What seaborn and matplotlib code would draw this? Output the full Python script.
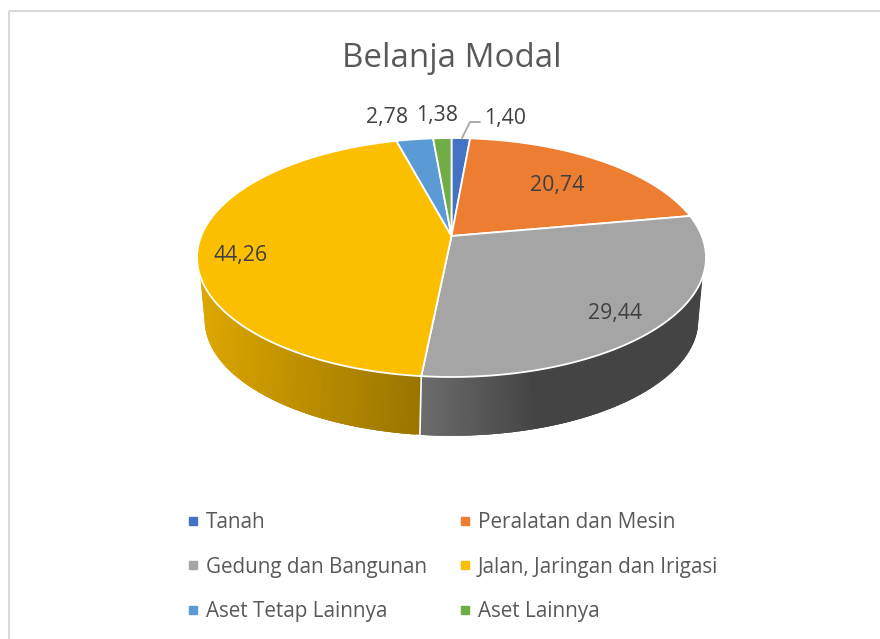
import numpy as np
import matplotlib
matplotlib.use("Agg")
import matplotlib.pyplot as plt
from matplotlib.colors import to_rgb
from matplotlib.lines import Line2D
from matplotlib.patches import Rectangle
import seaborn as sns

categories = ["Tanah", "Peralatan dan Mesin", "Gedung dan Bangunan",
              "Jalan, Jaringan dan Irigasi", "Aset Tetap Lainnya", "Aset Lainnya"]
values = [1.40, 20.74, 29.44, 44.26, 2.78, 1.38]
value_labels = ["1,40", "20,74", "29,44", "44,26", "2,78", "1,38"]
colors = ["#4472C4", "#ED7D31", "#A5A5A5", "#FCBF00", "#5B9BD5", "#70AD47"]
title = "Belanja Modal"

sns.set_theme(style="white")
plt.rcParams["font.family"] = ["Open Sans", "DejaVu Sans"]

# perspective of the pie disc, in figure pixels
CX, CY = 451.5, 236.0
F, G, K = 250.3, 115.6, 0.18
BOTTOM_CY, BOTTOM_SCALE = 299.0, 0.97


def project(deg, cy=CY, scale=1.0):
    a = np.radians(deg)
    x, y = np.sin(a), np.cos(a)
    d = 1 + K * y
    return CX + scale * F * x / d, cy - scale * G * y / d


def side_shade(color, px):
    """Shade of the rim: darker than the top, varying across the pie."""
    r = np.array(to_rgb(color))
    if color == colors[3]:
        t = np.clip((px - 198) / (421 - 198), 0, 1)
        return tuple(r * (0.88 - 0.27 * t))
    t = np.clip((px - 421) / (535 - 421), 0, 1)
    return tuple(r * (0.66 - 0.25 * t))


fig = plt.figure(figsize=(8.8, 6.39), dpi=100, facecolor="white")
ax = fig.add_axes([0, 0, 1, 1])
ax.set_xlim(0, 880)
ax.set_ylim(639, 0)
ax.axis("off")

ax.add_patch(Rectangle((8.5, 10.7), 900, 700, fill=False, ec="#D9D9D9", lw=1.5, zorder=0))

edges = np.concatenate([[0], np.cumsum(values)]) / np.sum(values) * 360

# rim: each strip runs to the slice's end, the next one paints over it
VIS_TOP, VIS_BOT = 70.5, 76.0
for i, color in enumerate(colors):
    lo = max(edges[i], 180 - VIS_TOP)
    hi = min(edges[i + 1], 180 + VIS_TOP)
    if lo >= hi:
        continue
    for a0 in np.arange(lo, hi, 0.75):
        top = np.linspace(a0, min(a0 + 2.0, hi), 6)
        bot = 180 + (top - 180) * VIS_BOT / VIS_TOP
        tx, ty = project(top)
        bx, by = project(bot, BOTTOM_CY, BOTTOM_SCALE)
        c = side_shade(color, tx[:2].mean())
        ax.fill(np.r_[tx, bx[::-1]], np.r_[ty, by[::-1]], fc=c, ec="none", lw=0, zorder=2)
    # seam between visible slices
    if edges[i + 1] < 180 + VIS_TOP:
        tx, ty = project(edges[i + 1])
        bx, by = project(180 + (edges[i + 1] - 180) * VIS_BOT / VIS_TOP, BOTTOM_CY, BOTTOM_SCALE)
        ax.plot([tx, bx], [ty, by], color="white", lw=1.2, zorder=3)

# top face
for i, color in enumerate(colors):
    arc = np.linspace(edges[i], edges[i + 1], 200)
    px, py = project(arc)
    ax.fill(np.r_[CX, px], np.r_[CY, py], fc=color, ec="white", lw=1.3,
            joinstyle="round", zorder=4)

# value labels
label_pos = [(505.5, 118.5), (557, 185), (615, 314), (241, 255), (387.5, 117.5), (437, 115.5)]
for txt, (lx, ly) in zip(value_labels, label_pos):
    ax.text(lx, ly, txt, ha="center", va="center", fontsize=15.3, color="#404040", zorder=6)
ax.plot([462, 470, 480], [138, 122, 122], color="#A6A6A6", lw=1.3, zorder=6)

ax.text(451.5, 58.5, title, ha="center", va="center", fontsize=23.85, color="#595959")

# legend, filled column by column
order = [0, 2, 4, 1, 3, 5]
handles = [Line2D([], [], ls="none", marker="s", ms=5.8, color=colors[i],
                  label=categories[i]) for i in order]
ax.legend(handles=handles, ncol=2, loc="upper left", bbox_to_anchor=(189.3 / 880, 1 - 512 / 639),
          frameon=False, fontsize=14.9, labelcolor="#595959", handlelength=0.4,
          handletextpad=0.42, columnspacing=1.64, labelspacing=1.14,
          borderaxespad=0, borderpad=0)

fig.savefig("out.png", dpi=100)
